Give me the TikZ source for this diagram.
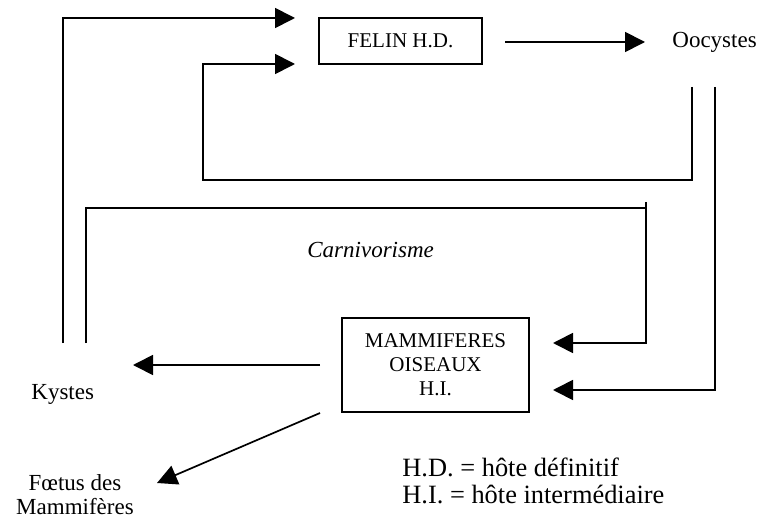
\documentclass[tikz,border=0pt]{standalone}
\usepackage{fontspec}
\setmainfont{Liberation Serif}
\usetikzlibrary{arrows.meta}
\begin{document}
\begin{tikzpicture}[x=0.5pt,y=-0.5pt,
  conn/.style={line width=0.85pt},
  arr/.style={conn,-{Triangle[length=10pt,width=10pt]}},
  boxnode/.style={draw,line width=0.85pt,inner sep=0pt,align=center,font=\fontsize{10.5}{12}\selectfont},
  lbl/.style={inner sep=0pt,font=\fontsize{11.5}{12.5}\selectfont},
  legend/.style={inner sep=0pt,font=\fontsize{13.2}{13.5}\selectfont}]
\useasboundingbox (0,0) rectangle (759,518);
% nodes
\node[boxnode,minimum width=81.5pt,minimum height=23pt] (felin) at (400.5,41) {FELIN H.D.};
\node[boxnode,minimum width=93.5pt,minimum height=47pt] (mam) at (435.5,365) {MAMMIFERES\\OISEAUX\\H.I.};
\node[lbl,anchor=base west] (ooc) at (672,48) {Oocystes};
\node[lbl,anchor=base west] (kys) at (31,399) {Kystes};
\node[lbl,anchor=base] (foet1) at (75,490) {Fœtus des};
\node[lbl,anchor=base] (foet2) at (75,514) {Mammifères};
\node[lbl,anchor=base west,font=\fontsize{11.5}{12.5}\selectfont\itshape] (carn) at (307,257) {Carnivorisme};
\node[legend,anchor=base west] (leg1) at (402,476) {H.D. = hôte définitif};
\node[legend,anchor=base west] (leg2) at (402,503) {H.I. = hôte intermédiaire};
% connector end points
\coordinate (k1) at (63,343);
\coordinate (f1) at (295,18);
\coordinate (k2) at (86,343);
\coordinate (c2) at (646,202);
\coordinate (m1) at (553,343);
\coordinate (o1) at (692,87);
\coordinate (f2) at (295,64);
\coordinate (o2) at (715,87);
\coordinate (m2) at (553,390);
\coordinate (fe) at (505,42);
\coordinate (oo) at (645,42);
\coordinate (ms) at (320,365);
\coordinate (kt) at (133,365);
\coordinate (md) at (320,413);
\coordinate (ft) at (157,483);
% connectors
\draw[arr] (k1) |- (f1);
\draw[conn] (k2) |- (646,208);
\draw[arr] (c2) |- (m1);
\draw[arr] (o1) -- (692,180) -- (203,180) |- (f2);
\draw[arr] (o2) |- (m2);
\draw[arr] (fe) -- (oo);
\draw[arr] (ms) -- (kt);
\draw[arr] (md) -- (ft);
\end{tikzpicture}
\end{document}
